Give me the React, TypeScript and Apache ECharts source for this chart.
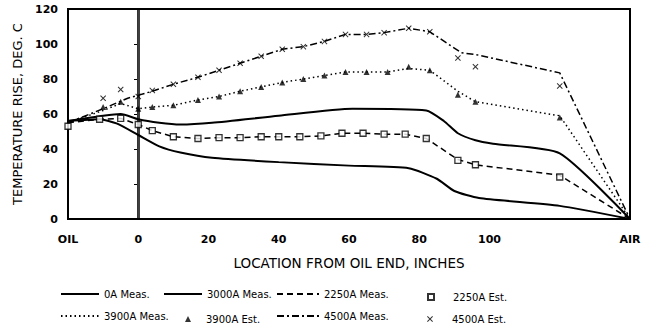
import React, { useEffect, useRef } from "react";
import * as echarts from "echarts";

// ---- data ----
const meas0AX = [-20, -11, -6, 0, 6, 12, 21, 40, 60, 77, 85, 90, 97, 120, 140];
const meas0AY = [56, 57, 54.5, 48, 41.5, 38, 35, 32.5, 30.5, 29, 23, 16, 12, 7.5, 0];

const meas3000X = [-20, -10, -5, 0, 6, 12, 21, 40, 61, 82, 87, 91, 96, 101, 120, 140];
const meas3000Y = [56, 59, 60, 57, 55, 54, 55, 59, 63, 62, 56, 49, 45, 43, 37.5, 0];

const meas2250X = [-20, -11, -5, 0, 4, 10, 17, 23, 29, 35, 40, 46, 52, 58, 64, 70, 76, 82, 91, 96, 120, 140];
const meas2250Y = [55, 57, 57.5, 54, 50.5, 47, 46, 46.5, 46.5, 47, 47, 47, 47.5, 49, 49, 48.5, 48.5, 46, 34, 31, 25, 0];

const est2250X = [-20, -11, -5, 0, 4, 10, 17, 23, 29, 35, 40, 46, 52, 58, 64, 70, 76, 82, 91, 96, 120];
const est2250Y = [53, 57, 57.5, 54, 50.5, 47, 46, 46.5, 46.5, 47, 47, 47, 47.5, 49, 49, 48.5, 48.5, 46, 33.5, 31, 24];

const meas3900X = [-20, -10, -5, 0, 4, 10, 17, 23, 29, 35, 41, 47, 53, 59, 65, 71, 77, 83, 91, 96, 120, 140];
const meas3900Y = [55, 62, 66, 63, 64, 65, 68, 70, 73, 75.5, 78, 80, 82, 84, 84, 84, 86, 85, 73, 67, 59, 0];

const est3900X = [-10, -5, 0, 4, 10, 17, 23, 29, 35, 41, 47, 53, 59, 65, 71, 77, 83, 91, 96, 120];
const est3900Y = [64, 67, 63, 64, 65, 68, 70, 73, 75.5, 78, 80, 82, 84, 84, 84, 87, 85, 71, 67, 58];

const meas4500X = [-20, -10, -3, 4, 10, 17, 23, 29, 35, 41, 47, 53, 59, 65, 70, 77, 83, 92, 96, 120, 140];
const meas4500Y = [55, 63, 69, 73, 77, 81, 85, 89, 93, 97, 98.5, 101.5, 105.5, 105.5, 106.5, 109, 107, 95, 94, 83.5, 0];

const est4500X = [-10, -5, 0, 4, 10, 17, 23, 29, 35, 41, 47, 53, 59, 65, 70, 77, 83, 91, 96, 120];
const est4500Y = [69, 74, 70, 73.5, 77, 81, 85, 89, 93, 97, 98.5, 101.5, 105.5, 105.5, 106.5, 109, 107, 92, 87, 76];

const xTicks = { min: -20, max: 140, step: 20 };
const yTicks = { min: 0, max: 120, step: 20 };
const xEndLabels = { oil: "OIL", air: "AIR" };

const seriesNames = [
  "0A Meas.",
  "3000A Meas.",
  "2250A Meas.",
  "2250A Est.",
  "3900A Meas.",
  "3900A Est.",
  "4500A Meas.",
  "4500A Est.",
];

const zip = (xs: number[], ys: number[]) => xs.map((x, i) => [x, ys[i]]);

const FONT = "DejaVu Sans";
const CROSS =
  "path://M0,1.2L1.2,0L5,3.8L8.8,0L10,1.2L6.2,5L10,8.8L8.8,10L5,6.2L1.2,10L0,8.8L3.8,5Z";

export default function App() {
  const ref = useRef<HTMLDivElement>(null);
  useEffect(() => {
    if (!ref.current) return;
    const chart = echarts.init(ref.current, undefined, { renderer: "svg" });
    const lineBase = (name: string, xs: number[], ys: number[], type: any, width: number, smooth: number | boolean) => ({
      name,
      type: "line",
      data: zip(xs, ys),
      symbol: "none",
      smooth,
      lineStyle: { color: "#000", width, type },
      itemStyle: { color: "#000" },
      z: 2,
    });
    const legendText = { fontSize: 10, color: "#000", fontFamily: FONT };
    const legendLine = (name: string, left: number, top: number, w: number) => ({
      data: [{ name, itemStyle: { opacity: 0 } }],
      left,
      top,
      padding: 0,
      itemWidth: w,
      itemHeight: 12,
      selectedMode: false,
      textStyle: { ...legendText, padding: [0, 0, 0, 0] },
    });
    const legendMark = (name: string, left: number, top: number, s: number, pad: number) => ({
      data: [name],
      left,
      top,
      padding: 0,
      itemWidth: s,
      itemHeight: s,
      selectedMode: false,
      textStyle: { ...legendText, padding: [0, 0, 0, pad] },
    });
    chart.setOption({
      animation: false,
      backgroundColor: "#fff",
      grid: {
        left: 68,
        right: 19,
        top: 9,
        bottom: 109,
        show: true,
        borderColor: "#000",
        borderWidth: 2,
      },
      legend: [
        legendLine(seriesNames[0], 60, 289, 38),
        legendLine(seriesNames[1], 163, 289, 38),
        legendLine(seriesNames[2], 276, 289, 42),
        legendMark(seriesNames[3], 427, 292, 6, 14),
        legendLine(seriesNames[4], 60, 311, 38),
        legendMark(seriesNames[5], 185, 314, 6, 10),
        legendLine(seriesNames[6], 276, 311, 42),
        legendMark(seriesNames[7], 427, 314, 6, 14),
      ],
      xAxis: {
        type: "value",
        min: xTicks.min,
        max: xTicks.max,
        interval: xTicks.step,
        name: "LOCATION FROM OIL END, INCHES",
        nameLocation: "middle",
        nameGap: 37,
        nameTextStyle: { fontSize: 13.5, color: "#000", fontFamily: FONT },
        axisLine: { show: true, lineStyle: { color: "#000", width: 2 } },
        axisTick: { show: false },
        splitLine: { show: false },
        axisLabel: {
          margin: 15,
          fontSize: 11,
          color: "#000",
          fontFamily: FONT,
          fontWeight: "bold",
          formatter: (v: number) =>
            v === xTicks.min ? xEndLabels.oil : v === xTicks.max ? xEndLabels.air : v === 120 ? "" : String(v),
        },
      },
      yAxis: [
        {
          type: "value",
          min: yTicks.min,
          max: yTicks.max,
          interval: yTicks.step,
          name: "TEMPERATURE RISE, DEG. C",
          nameLocation: "middle",
          nameGap: 37,
          nameTextStyle: { fontSize: 13, color: "#000", fontFamily: FONT },
          axisLine: { show: true, lineStyle: { color: "#000", width: 1.5 } },
          axisTick: { show: false },
          splitLine: { show: false },
          axisLabel: { margin: 10, fontSize: 11, color: "#000", fontFamily: FONT, fontWeight: "bold" },
        },
        {
          type: "value",
          position: "left",
          offset: -69,
          min: yTicks.min,
          max: yTicks.max,
          interval: yTicks.step,
          axisLine: { show: true, lineStyle: { color: "#000", width: 0.8 } },
          axisTick: { show: true, length: 3, lineStyle: { color: "#000", width: 1 } },
          axisLabel: { show: false },
          splitLine: { show: false },
        },
      ],
      series: [
        lineBase(seriesNames[0], meas0AX, meas0AY, "solid", 2, 0.2),
        lineBase(seriesNames[1], meas3000X, meas3000Y, "solid", 2, 0.2),
        lineBase(seriesNames[2], meas2250X, meas2250Y, [6, 4], 1.5, false),
        {
          name: seriesNames[3],
          type: "scatter",
          data: zip(est2250X, est2250Y),
          symbol: "rect",
          symbolSize: 6,
          itemStyle: { color: "#fff", borderColor: "#000", borderWidth: 1.3 },
          z: 3,
        },
        lineBase(seriesNames[4], meas3900X, meas3900Y, [1.5, 3], 1.5, false),
        {
          name: seriesNames[5],
          type: "scatter",
          data: zip(est3900X, est3900Y),
          symbol: "triangle",
          symbolSize: 6,
          itemStyle: { color: "#000" },
          z: 3,
        },
        lineBase(seriesNames[6], meas4500X, meas4500Y, [7, 3, 2, 3], 1.5, false),
        {
          name: seriesNames[7],
          type: "scatter",
          data: zip(est4500X, est4500Y),
          symbol: CROSS,
          symbolSize: 6,
          itemStyle: { color: "#000" },
          z: 3,
        },
      ],
    });
    return () => chart.dispose();
  }, []);
  return <div ref={ref} style={{ width: 649, height: 328, position: "absolute", left: 0, top: 0 }} />;
}
